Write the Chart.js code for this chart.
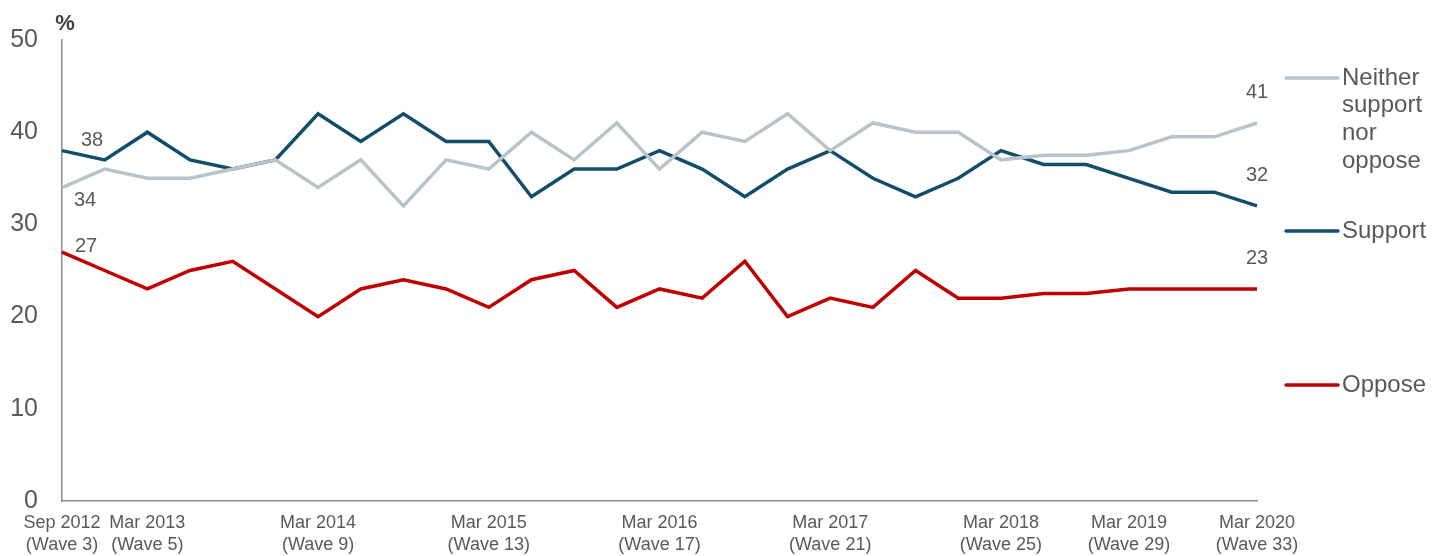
<!DOCTYPE html>
<html>
<head>
<meta charset="utf-8">
<script src="https://cdn.jsdelivr.net/npm/chart.js@4.4.1/dist/chart.umd.min.js"></script>
<style>
  html, body { margin: 0; padding: 0; background: #fff; }
  #wrap { width: 1440px; height: 556px; position: relative; }
</style>
</head>
<body>
<div id="wrap"><canvas id="trackerChart"></canvas></div>
<script>
// Survey waves, Sep 2012 (Wave 3) to Mar 2020 (Wave 33)
const waveLabels = [
    ['Sep 2012', '(Wave 3)'], '', ['Mar 2013', '(Wave 5)'], '', '', '',
    ['Mar 2014', '(Wave 9)'], '', '', '',
    ['Mar 2015', '(Wave 13)'], '', '', '',
    ['Mar 2016', '(Wave 17)'], '', '', '',
    ['Mar 2017', '(Wave 21)'], '', '', '',
    ['Mar 2018', '(Wave 25)'], '', '',
    ['Mar 2019', '(Wave 29)'], '', '',
    ['Mar 2020', '(Wave 33)']
];

const neitherValues = [34, 36, 35, 35, 36, 37, 34, 37, 32, 37, 36, 40, 37, 41, 36, 40, 39, 42, 38, 41, 40, 40, 37, 37.5, 37.5, 38, 39.5, 39.5, 41];
const supportValues = [38, 37, 40, 37, 36, 37, 42, 39, 42, 39, 39, 33, 36, 36, 38, 36, 33, 36, 38, 35, 33, 35, 38, 36.5, 36.5, 35, 33.5, 33.5, 32];
const opposeValues  = [27, 25, 23, 25, 26, 23, 20, 23, 24, 23, 21, 24, 25, 21, 23, 22, 26, 20, 22, 21, 25, 22, 22, 22.5, 22.5, 23, 23, 23, 23];

const yTicks = [0, 10, 20, 30, 40, 50];

const textGrey = '#595959';
const fontFamily = 'Arial, "Liberation Sans", sans-serif';

// start / end value labels, offsets from the point in px
const valueLabels = [
    { ds: 0, idx: 0, dx: 23, dy: 13 },
    { ds: 0, idx: 28, dx: 0, dy: -30 },
    { ds: 1, idx: 0, dx: 30, dy: -10 },
    { ds: 1, idx: 28, dx: 0, dy: -30 },
    { ds: 2, idx: 0, dx: 24, dy: -6 },
    { ds: 2, idx: 28, dx: 0, dy: -30 }
];

const labelPlugin = {
    id: 'labelPlugin',
    afterDatasetsDraw(chart) {
        const ctx = chart.ctx;
        ctx.save();
        ctx.fillStyle = textGrey;
        ctx.font = '20px ' + fontFamily;
        ctx.textAlign = 'center';
        ctx.textBaseline = 'middle';
        valueLabels.forEach(l => {
            const pt = chart.getDatasetMeta(l.ds).data[l.idx];
            const v = chart.data.datasets[l.ds].data[l.idx];
            ctx.fillText(String(v), pt.x + l.dx, pt.y + l.dy);
        });

        // % unit above the y axis
        const area = chart.chartArea;
        ctx.font = 'bold 22px ' + fontFamily;
        ctx.fillStyle = '#404040';
        ctx.fillText('%', area.left + 3, area.top - 16);

        // legend on the right
        const legendItems = [
            { ds: 0, y: 78, lines: ['Neither', 'support', 'nor', 'oppose'] },
            { ds: 1, y: 231, lines: ['Support'] },
            { ds: 2, y: 385, lines: ['Oppose'] }
        ];
        ctx.font = '24px ' + fontFamily;
        ctx.textAlign = 'left';
        legendItems.forEach(item => {
            const ds = chart.data.datasets[item.ds];
            ctx.strokeStyle = ds.borderColor;
            ctx.lineWidth = 3.5;
            ctx.lineCap = 'round';
            ctx.beginPath();
            ctx.moveTo(area.right + 29, item.y);
            ctx.lineTo(area.right + 81, item.y);
            ctx.stroke();
            ctx.fillStyle = textGrey;
            item.lines.forEach((t, i) => {
                ctx.fillText(t, area.right + 85, item.y + i * 27.7);
            });
        });
        ctx.restore();
    }
};

const ctx = document.getElementById('trackerChart').getContext('2d');
new Chart(ctx, {
    type: 'line',
    data: {
        labels: waveLabels,
        datasets: [
            {
                label: 'Neither support nor oppose',
                data: neitherValues,
                borderColor: '#b8c3ca',
                borderWidth: 3.5,
                pointRadius: 0,
                tension: 0,
                fill: false
            },
            {
                label: 'Support',
                data: supportValues,
                borderColor: '#124e6c',
                borderWidth: 3.5,
                pointRadius: 0,
                tension: 0,
                fill: false
            },
            {
                label: 'Oppose',
                data: opposeValues,
                borderColor: '#c00000',
                borderWidth: 3.5,
                pointRadius: 0,
                tension: 0,
                fill: false
            }
        ]
    },
    options: {
        responsive: true,
        maintainAspectRatio: false,
        animation: false,
        layout: {
            padding: { left: 0, right: 183, top: 40, bottom: 0 }
        },
        plugins: {
            legend: { display: false },
            tooltip: { enabled: false }
        },
        scales: {
            x: {
                offset: false,
                grid: { display: false, drawTicks: false },
                border: { display: true, color: '#8c8c8c', width: 1.5 },
                ticks: {
                    autoSkip: false,
                    maxRotation: 0,
                    padding: 12,
                    color: textGrey,
                    font: { family: fontFamily, size: 18, lineHeight: 1.17 }
                },
                afterFit(scale) { scale.height = 55; }
            },
            y: {
                min: 0,
                max: 50,
                grid: { display: false, drawTicks: false },
                border: { display: true, color: '#8c8c8c', width: 1.5 },
                afterBuildTicks(scale) {
                    scale.ticks = yTicks.map(v => ({ value: v }));
                },
                ticks: {
                    padding: 24,
                    color: textGrey,
                    font: { family: fontFamily, size: 25 }
                },
                afterFit(scale) { scale.width = 62; }
            }
        }
    },
    plugins: [labelPlugin]
});
</script>
</body>
</html>
